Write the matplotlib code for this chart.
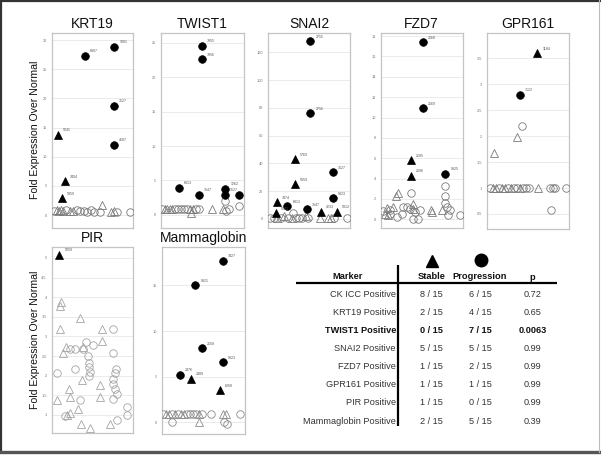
import matplotlib
matplotlib.use("Agg")
import matplotlib.pyplot as plt
from matplotlib.lines import Line2D

plt.rcParams['font.family'] = ['Liberation Sans', 'DejaVu Sans']

# ---------------- data ----------------
# filled markers: x position (within panel), value, kind (T=stable, C=progression), sample label
KRT19_FX = [62.3, 33.3, 62.3, 62.3, 6.3, 13.3, 10.3]
KRT19_FY = [28.8, 27.3, 18.7, 12.1, 13.8, 5.8, 2.9]
KRT19_FK = "CCCCTTT"
KRT19_FL = ["1081", "8307", "3527", "4187", "5241", "7404", "5359"]
KRT19_OX = [2.5, 5.0, 7.0, 9.0, 11.5, 14.5, 18.0, 21.5, 25.0, 28.5, 32.0, 35.5, 39.0, 42.0, 48.5, 50.5, 59.5, 62.5, 65.5, 78.5]
KRT19_OY = [0.7, 0.8, 0.7, 0.8, 0.7, 0.8, 0.7, 0.7, 0.8, 0.7, 0.7, 0.6, 0.8, 0.6, 0.5, 1.7, 0.6, 0.7, 0.6, 0.6]
KRT19_OK = "cttttcttccccccctttcc"

TWIST1_FX = [41.3, 41.3, 18.3, 38.3, 64.3, 64.3, 78.3]
TWIST1_FY = [24.5, 22.6, 3.9, 2.9, 3.8, 2.9, 2.9]
TWIST1_FK = "CCCCCCC"
TWIST1_FL = ["7955", "7956", "6813", "7547", "1262", "3527", ""]
TWIST1_OX = [1.5, 4.0, 6.5, 9.0, 11.5, 14.0, 17.0, 20.0, 23.0, 26.0, 29.0, 32.0, 35.0, 38.5, 30.0, 51.0, 62.5, 65.5, 68.0, 64.0, 78.6]
TWIST1_OY = [0.9, 0.9, 0.9, 0.9, 0.9, 0.9, 0.9, 0.9, 0.9, 0.9, 0.9, 0.9, 0.9, 0.9, 0.3, 0.9, 0.8, 0.6, 0.9, 2.0, 1.35]
TWIST1_OK = "cttttcccccttcctttcccc"

SNAI2_FX = [42.0, 42.0, 26.7, 26.7, 64.7, 64.7, 8.4, 19.0, 7.4, 38.4, 52.4, 68.4]
SNAI2_FY = [128, 76, 43, 25, 33.6, 15, 12, 9, 4.1, 7, 5.3, 5.3]
SNAI2_FK = "CCTTCCTCTCTT"
SNAI2_FL = ["2755", "2756", "5769", "5359", "3527", "9323", "7474", "6813", "5241", "7547", "4233", "5312"]
SNAI2_OX = [2.0, 5.5, 9.0, 12.5, 16.0, 20.0, 24.0, 25.0, 28.0, 31.0, 34.0, 37.5, 40.0, 51.5, 60.0, 63.0, 66.0, 79.0]
SNAI2_OY = [0.5, 0.5, 1.0, 0.5, 2.0, 0.8, 0.5, 4.5, 0.5, 0.5, 0.8, 2.2, 0.5, 0.5, 0.5, 1.0, 0.5, 0.5]
SNAI2_OK = "cctctctcccctctttcc"

FZD7_FX = [42.0, 42.0, 30.0, 30.0, 64.6]
FZD7_FY = [17.4, 10.9, 5.8, 4.25, 4.45]
FZD7_FK = "CCTTC"
FZD7_FL = ["2568", "2569", "2695", "2696", "9325"]
FZD7_OX = [64.6, 64.6, 30.0, 2.6, 9.3, 21.0, 22.6, 26.0, 34.3, 32.6, 37.6, 39.3, 29.3, 66.0, 69.3, 67.6, 79.3, 16.0, 9.3, 64.3,
           17.6, 15.3, 5.9, 12.6, 4.3, 32.6, 32.0, 51.0, 50.0, 61.0, 7.6]
FZD7_OY = [3.3, 2.3, 2.6, 0.81, 0.48, 0.48, 1.2, 1.2, 0.7, 0.06, 0.06, 0.87, 1.0, 1.2, 0.87, 0.38, 0.38, 0.2, 0.87, 1.56,
           2.6, 2.3, 1.13, 1.26, 0.57, 1.5, 1.0, 0.7, 0.87, 0.87, 0.38]
FZD7_OK = "c" * 20 + "t" * 11

GPR161_FX = [50.6, 33.3]
GPR161_FY = [3.6, 2.8]
GPR161_FK = "TC"
GPR161_FL = ["1184", "7122"]
GPR161_OX = [35.0, 30.0, 7.3, 64.0, 3.0, 6.0, 9.0, 12.0, 15.0, 18.0, 21.0, 24.0, 27.0, 30.0, 33.0, 36.0, 39.0, 42.0, 51.6, 63.0, 66.0, 68.5, 79.3]
GPR161_OY = [2.19, 1.98, 1.68, 0.57, 1.0, 1.0, 1.0, 1.0, 1.0, 1.0, 1.0, 1.0, 1.0, 1.0, 1.0, 1.0, 1.0, 1.0, 1.0, 1.0, 1.0, 1.0, 1.0]
GPR161_OK = "cttccttcttctcctccctcccc"

PIR_FX = [7.6]
PIR_FY = [5.08]
PIR_FK = "T"
PIR_FL = ["5359"]
PIR_OX = [9.6, 8.3, 28.3, 8.3, 50.0, 50.0, 14.0, 11.0, 31.0, 30.0, 17.6, 18.3, 5.0, 48.3, 48.3, 26.6, 18.3, 29.3, 38.3, 58.3, 15.0,
          61.6, 34.0, 41.0, 18.3, 23.3, 31.6, 61.6, 36.6, 37.6, 37.6, 23.6, 38.3, 37.0, 5.0, 64.3, 63.3, 61.6, 61.6, 63.3, 65.0,
          61.6, 28.3, 13.6, 65.0, 75.0, 75.0]
PIR_OY = [3.87, 3.77, 3.48, 3.18, 3.18, 2.88, 2.73, 2.58, 2.73, 1.88, 1.66, 1.47, 1.38, 1.77, 1.47, 1.15, 1.06, 0.78, 0.67, 0.78, 0.99,
          3.18, 2.86, 2.78, 2.69, 2.69, 2.69, 2.58, 2.49, 2.32, 2.22, 2.18, 2.09, 1.99, 2.07, 2.18, 2.06, 1.92, 1.79, 1.66, 1.53,
          1.40, 1.38, 0.97, 0.86, 1.19, 0.99]
PIR_OK = "t" * 21 + "c" * 26

MAMMA_FX = [61.0, 33.6, 40.3, 61.3, 18.3, 29.0, 58.3]
MAMMA_FY = [17.7, 15.0, 8.1, 6.6, 5.2, 4.8, 3.5]
MAMMA_FK = "CCCCCTT"
MAMMA_FL = ["7427", "9321", "2558", "9323", "2476", "2489", "6268"]
MAMMA_OX = [1.6, 4.5, 7.5, 10.5, 13.5, 16.5, 19.5, 22.5, 25.5, 28.5, 31.5, 34.5, 37.5, 40.0, 49.3, 61.0, 64.3, 78.3, 10.0, 37.6, 62.3, 65.0]
MAMMA_OY = [0.9] * 18 + [0.0, 0.0, 0.1, -0.2]
MAMMA_OK = "cttctcttcccctccttcctcc"

TABLE_MARKERS = ["CK ICC Positive", "KRT19 Positive", "TWIST1 Positive", "SNAI2 Positive",
                 "FZD7 Positive", "GPR161 Positive", "PIR Positive", "Mammaglobin Positive"]
TABLE_STABLE = ["8 / 15", "2 / 15", "0 / 15", "5 / 15", "1 / 15", "1 / 15", "1 / 15", "2 / 15"]
TABLE_PROGRESSION = ["6 / 15", "4 / 15", "7 / 15", "5 / 15", "2 / 15", "1 / 15", "0 / 15", "5 / 15"]
TABLE_P = ["0.72", "0.65", "0.0063", "0.99", "0.99", "0.99", "0.99", "0.39"]

# ---------------- figure ----------------
W, H = 601, 455
fig = plt.figure(figsize=(W / 100, H / 100), dpi=100)
fig.patch.set_facecolor('white')


def px_axes(left, top, right, bottom):
    return fig.add_axes([left / W, 1 - bottom / H, (right - left) / W, (bottom - top) / H])


panels = [
    ("KRT19", (51.7, 33, 133.3, 228), (-2.2, 31.2), [0, 5, 10, 15, 20, 25, 30],
     KRT19_FX, KRT19_FY, KRT19_FK, KRT19_FL, KRT19_OX, KRT19_OY, KRT19_OK, '#7a7a7a'),
    ("TWIST1", (160.7, 33, 244, 228), (-1.9, 26.4), [0, 5, 10, 15, 20, 25],
     TWIST1_FX, TWIST1_FY, TWIST1_FK, TWIST1_FL, TWIST1_OX, TWIST1_OY, TWIST1_OK, '#7a7a7a'),
    ("SNAI2", (268.3, 33, 350, 228), (-6.5, 134), [0, 20, 40, 60, 80, 100, 120],
     SNAI2_FX, SNAI2_FY, SNAI2_FK, SNAI2_FL, SNAI2_OX, SNAI2_OY, SNAI2_OK, '#7a7a7a'),
    ("FZD7", (380.7, 33, 462.7, 228), (-0.85, 18.3), [0, 2, 4, 6, 8, 10, 12, 14, 16, 18],
     FZD7_FX, FZD7_FY, FZD7_FK, FZD7_FL, FZD7_OX, FZD7_OY, FZD7_OK, '#7a7a7a'),
    ("GPR161", (486.7, 33, 569.3, 229), (0.21, 3.99), [0.5, 1, 1.5, 2, 2.5, 3, 3.5],
     GPR161_FX, GPR161_FY, GPR161_FK, GPR161_FL, GPR161_OX, GPR161_OY, GPR161_OK, '#7a7a7a'),
    ("PIR", (51.7, 247, 133.3, 433), (0.54, 5.28), [1, 1.5, 2, 2.5, 3, 3.5, 4, 4.5, 5],
     PIR_FX, PIR_FY, PIR_FK, PIR_FL, PIR_OX, PIR_OY, PIR_OK, '#a4a4a4'),
    ("Mammaglobin", (161.7, 247, 245, 434), (-1.26, 19.2), [0, 5, 10, 15],
     MAMMA_FX, MAMMA_FY, MAMMA_FK, MAMMA_FL, MAMMA_OX, MAMMA_OY, MAMMA_OK, '#8c8c8c'),
]

for (title, rect, ylim, yticks, fx, fy, fk, fl, ox, oy, ok, ocol) in panels:
    ax = px_axes(*rect)
    ax.set_xlim(0, rect[2] - rect[0])
    ax.set_ylim(*ylim)
    ax.set_xticks([])
    ax.set_yticks(yticks)
    ax.set_yticklabels([('%g' % t) for t in yticks], fontsize=2.8, color='#777777')
    ax.tick_params(axis='y', length=0, pad=3.5)
    ax.grid(axis='y', color='#e8e8e8', linewidth=0.6)
    ax.set_axisbelow(True)
    for s in ax.spines.values():
        s.set_color('#c4c4c4')
        s.set_linewidth(0.9)
    ax.set_title(title, fontsize=10, pad=3.5, color='#111111')
    # open (negative) markers
    for x, y, k in zip(ox, oy, ok):
        ax.plot(x, y, marker='^' if k == 't' else 'o', ms=5.6 if k == 't' else 5.4,
                mfc='none', mec=ocol, mew=0.6, linestyle='none', zorder=3)
    # filled (positive) markers
    for x, y, k, lab in zip(fx, fy, fk, fl):
        ax.plot(x, y, marker='^' if k == 'T' else 'o', ms=5.8 if k == 'T' else 5.5,
                mfc='black', mec='black', mew=0.5, linestyle='none', zorder=4)
        if lab:
            ax.annotate(lab, (x, y), xytext=(3.8, 2.6), textcoords='offset points',
                        fontsize=2.6, color='#555555', zorder=5)

# y-axis labels
fig.text(35 / W, 1 - 129.5 / H, "Fold Expression Over Normal", rotation=90,
         ha='center', va='center', fontsize=7.6, color='#111111')
fig.text(35 / W, 1 - 340 / H, "Fold Expression Over Normal", rotation=90,
         ha='center', va='center', fontsize=7.6, color='#111111')

# ---------------- table ----------------
tax = fig.add_axes([0, 0, 1, 1])
tax.set_xlim(0, W)
tax.set_ylim(H, 0)
tax.axis('off')

tax.plot([431.5], [260.5], marker='^', ms=9, color='black', linestyle='none')
tax.plot([481], [259.5], marker='o', ms=9, color='black', linestyle='none')

header_y = 276.5
tax.text(348, header_y, "Marker", ha='center', va='center', fontsize=6.7, fontweight='bold', color='#111111')
tax.text(431.7, header_y, "Stable", ha='center', va='center', fontsize=6.7, fontweight='bold', color='#111111')
tax.text(480, header_y, "Progression", ha='center', va='center', fontsize=6.7, fontweight='bold', color='#111111')
tax.text(532.7, header_y + 1, "p", ha='center', va='center', fontsize=6.7, fontweight='bold', color='#111111')

tax.plot([296, 556.7], [282.7, 282.7], color='black', linewidth=1.6, solid_capstyle='butt')
tax.plot([397.7, 397.7], [265, 426], color='black', linewidth=1.6, solid_capstyle='butt')

row_y0, row_dy = 294.3, 18.1
for i, (m, s, p, pv) in enumerate(zip(TABLE_MARKERS, TABLE_STABLE, TABLE_PROGRESSION, TABLE_P)):
    y = row_y0 + i * row_dy
    bold = (i == 2)
    fw = 'bold' if bold else 'normal'
    col = '#111111' if bold else '#333333'
    tax.text(396, y, m, ha='right', va='center', fontsize=6.6, fontweight=fw, color=col)
    tax.text(431.7, y, s, ha='center', va='center', fontsize=6.6, fontweight=fw, color=col)
    tax.text(480, y, p, ha='center', va='center', fontsize=6.6, fontweight=fw, color=col)
    tax.text(532.7, y, pv, ha='center', va='center', fontsize=6.6, fontweight=fw, color=col)

# figure frame
tax.plot([1, 1], [0, 452], color='#333333', linewidth=1.6)
tax.plot([0, W], [1, 1], color='#333333', linewidth=1.6)
tax.plot([0, W], [452, 452], color='#555555', linewidth=2.4)
tax.plot([598.5, 598.5], [0, 452], color='#bbbbbb', linewidth=0.8)

fig.savefig("out.png", dpi=100, facecolor='white')
